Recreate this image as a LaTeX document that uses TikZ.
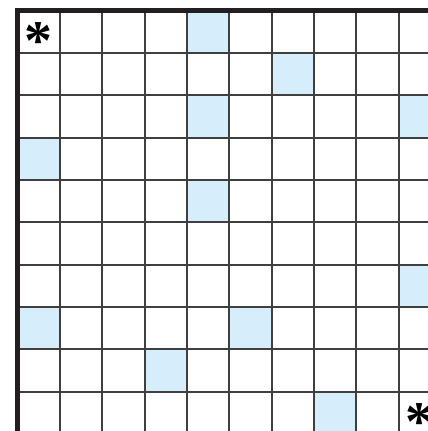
\documentclass[tikz,border=0pt]{standalone}
\usepackage{fontspec}
\newfontfamily\lserif{Liberation Serif}
\definecolor{cellblue}{HTML}{D6EEFB}
\definecolor{gridgray}{HTML}{3F3F3F}
\definecolor{borderblack}{HTML}{231F20}
\tikzset{
  gridline/.style={draw=gridgray, line width=2pt},
  borderline/.style={draw=borderblack, line width=5pt},
  shaded/.style={fill=cellblue},
  starmark/.style={inner sep=0pt, yshift=-9pt, font=\lserif\bfseries\fontsize{56}{56}\selectfont}
}
\begin{document}
\begin{tikzpicture}[x=1pt,y=-1pt]
\useasboundingbox (0,0) rectangle (428,431);
\fill[white] (0,0) rectangle (428,431);
\def\s{42.35}
\def\xo{17.5}
\def\yo{10.5}
% shaded cells: (col,row)
\foreach \c/\r in {4/0,6/1,4/2,9/2,0/3,4/4,9/6,0/7,5/7,3/8,7/9}{
  \fill[shaded] (\xo+\c*\s,\yo+\r*\s) rectangle ++(\s,\s);
}
\foreach \k in {1,...,10}{
  \draw[gridline] (\xo+\k*\s,\yo) -- (\xo+\k*\s,450);
  \draw[gridline] (\xo,\yo+\k*\s) -- (450,\yo+\k*\s);
}
\draw[borderline] (\xo,450) -- (\xo,\yo) -- (450,\yo);
\node[starmark] (s1) at (\xo+0.5*\s,\yo+0.5*\s) {*};
\node[starmark] (s2) at (\xo+9.5*\s,\yo+9.5*\s) {*};
\end{tikzpicture}
\end{document}
